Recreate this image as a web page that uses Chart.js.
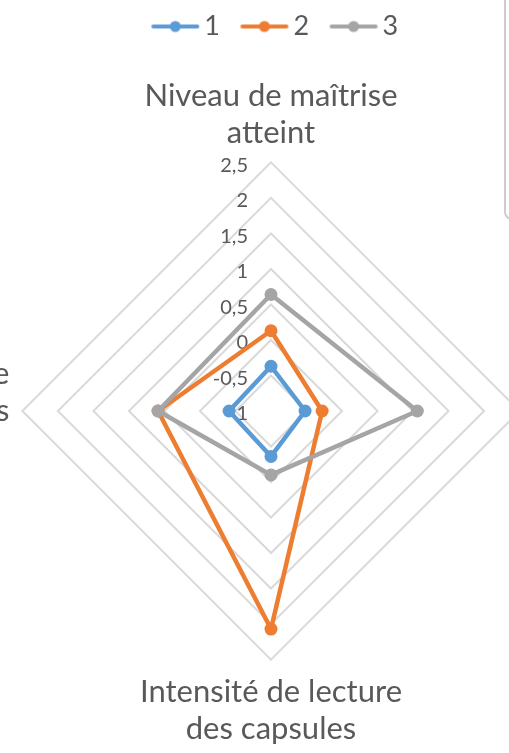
<!DOCTYPE html>
<html lang="fr">
<head>
<meta charset="utf-8">
<title>Profils</title>
<script src="https://cdn.jsdelivr.net/npm/chart.js@4.4.1/dist/chart.umd.min.js"></script>
<style>
  html, body { margin: 0; padding: 0; background: #fff; overflow: hidden; }
  body { width: 509px; height: 753px; position: relative; }
  #radar { position: absolute; left: -429px; top: 0; }
  .panel-edge {
    position: absolute; left: 504px; top: -12px; width: 30px; height: 232px;
    border: 2px solid #cdcdcd; border-radius: 8px; box-sizing: border-box;
  }
</style>
</head>
<body>
<canvas id="radar" width="1400" height="753"></canvas>
<div class="panel-edge"></div>
<script>
// axes (clockwise from the top), trailing "" keeps the side labels raised
const axes = [
  ["Niveau de maîtrise", "atteint"],
  ["Nombre de capsules", "visionnées", ""],
  ["Intensité de lecture", "des capsules"],
  ["Taux de réussite", "aux exercices", ""]
];
const seriesNames = ["1", "2", "3"];
const serie1 = [-0.37, -0.52, -0.36, -0.41];
const serie2 = [0.13, -0.28, 2.07, 0.59];
const serie3 = [0.64, 1.06, -0.10, 0.59];
const colors = ["#5B9BD5", "#ED7D31", "#A5A5A5"];

const TEXT = "#595959";
const LEGEND_FONT = 27;
const LEGEND_BOX = 47;

// legend marker: line with a dot, placed just before the text
function legendMarker(color) {
  const lineEnd = LEGEND_BOX / 2 + LEGEND_FONT / 2 - 5;
  const lineStart = lineEnd - 48;
  const half = Math.ceil(Math.max(lineEnd, -lineStart)) + 2;
  const c = document.createElement("canvas");
  c.width = half * 2;
  c.height = 16;
  const g = c.getContext("2d");
  g.strokeStyle = color;
  g.fillStyle = color;
  g.lineWidth = 4;
  g.lineCap = "round";
  g.beginPath();
  g.moveTo(half + lineStart + 2, 8);
  g.lineTo(half + lineEnd - 2, 8);
  g.stroke();
  g.beginPath();
  g.arc(half + (lineStart + lineEnd) / 2, 8, 5.5, 0, Math.PI * 2);
  g.fill();
  return c;
}
const markers = colors.map(legendMarker);

// value labels sit left of the vertical axis
const tickLabels = {
  id: "tickLabels",
  beforeDatasetsDraw(chart) {
    const s = chart.scales.r;
    const ctx = chart.ctx;
    ctx.save();
    ctx.font = "20px Lato";
    ctx.fillStyle = TEXT;
    ctx.textAlign = "right";
    ctx.textBaseline = "middle";
    s.ticks.forEach((t) => {
      const y = s.yCenter - s.getDistanceFromCenterForValue(t.value);
      ctx.fillText(String(t.value).replace(".", ","), s.xCenter - 23, y + 3);
    });
    ctx.restore();
  },
};

new Chart(document.getElementById("radar"), {
  type: "radar",
  data: {
    labels: axes,
    datasets: [serie1, serie2, serie3].map((d, i) => ({
      label: seriesNames[i],
      data: d,
      borderColor: colors[i],
      backgroundColor: colors[i],
      pointBackgroundColor: colors[i],
      pointBorderColor: colors[i],
      borderWidth: 4.5,
      borderJoinStyle: "round",
      pointRadius: 6.5,
      pointBorderWidth: 0,
      fill: false,
      order: 3 - i,
    })),
  },
  options: {
    responsive: false,
    animation: false,
    layout: { padding: { top: 0, bottom: 3 } },
    plugins: {
      legend: {
        labels: {
          font: { family: "Lato", size: LEGEND_FONT },
          color: TEXT,
          padding: 13,
          usePointStyle: true,
          pointStyleWidth: LEGEND_BOX,
          sort: (a, b) => a.datasetIndex - b.datasetIndex,
          generateLabels: (chart) =>
            Chart.defaults.plugins.legend.labels
              .generateLabels(chart)
              .map((item) => ({ ...item, pointStyle: markers[item.datasetIndex] })),
        },
      },
      // empty spacer between legend and plot
      title: { display: true, text: "", weight: 500, padding: 0, font: { size: 26, lineHeight: 1 } },
      tooltip: { enabled: false },
    },
    scales: {
      r: {
        min: -1,
        max: 2.5,
        ticks: { stepSize: 0.5, display: false },
        angleLines: { display: false },
        grid: { color: "#D9D9D9", lineWidth: 2 },
        pointLabels: {
          font: { family: "Lato", size: 31, lineHeight: 1.2 },
          color: TEXT,
          padding: (ctx) => [11, 13, 14, 13][ctx.index],
        },
      },
    },
  },
  plugins: [tickLabels],
});
</script>
</body>
</html>
